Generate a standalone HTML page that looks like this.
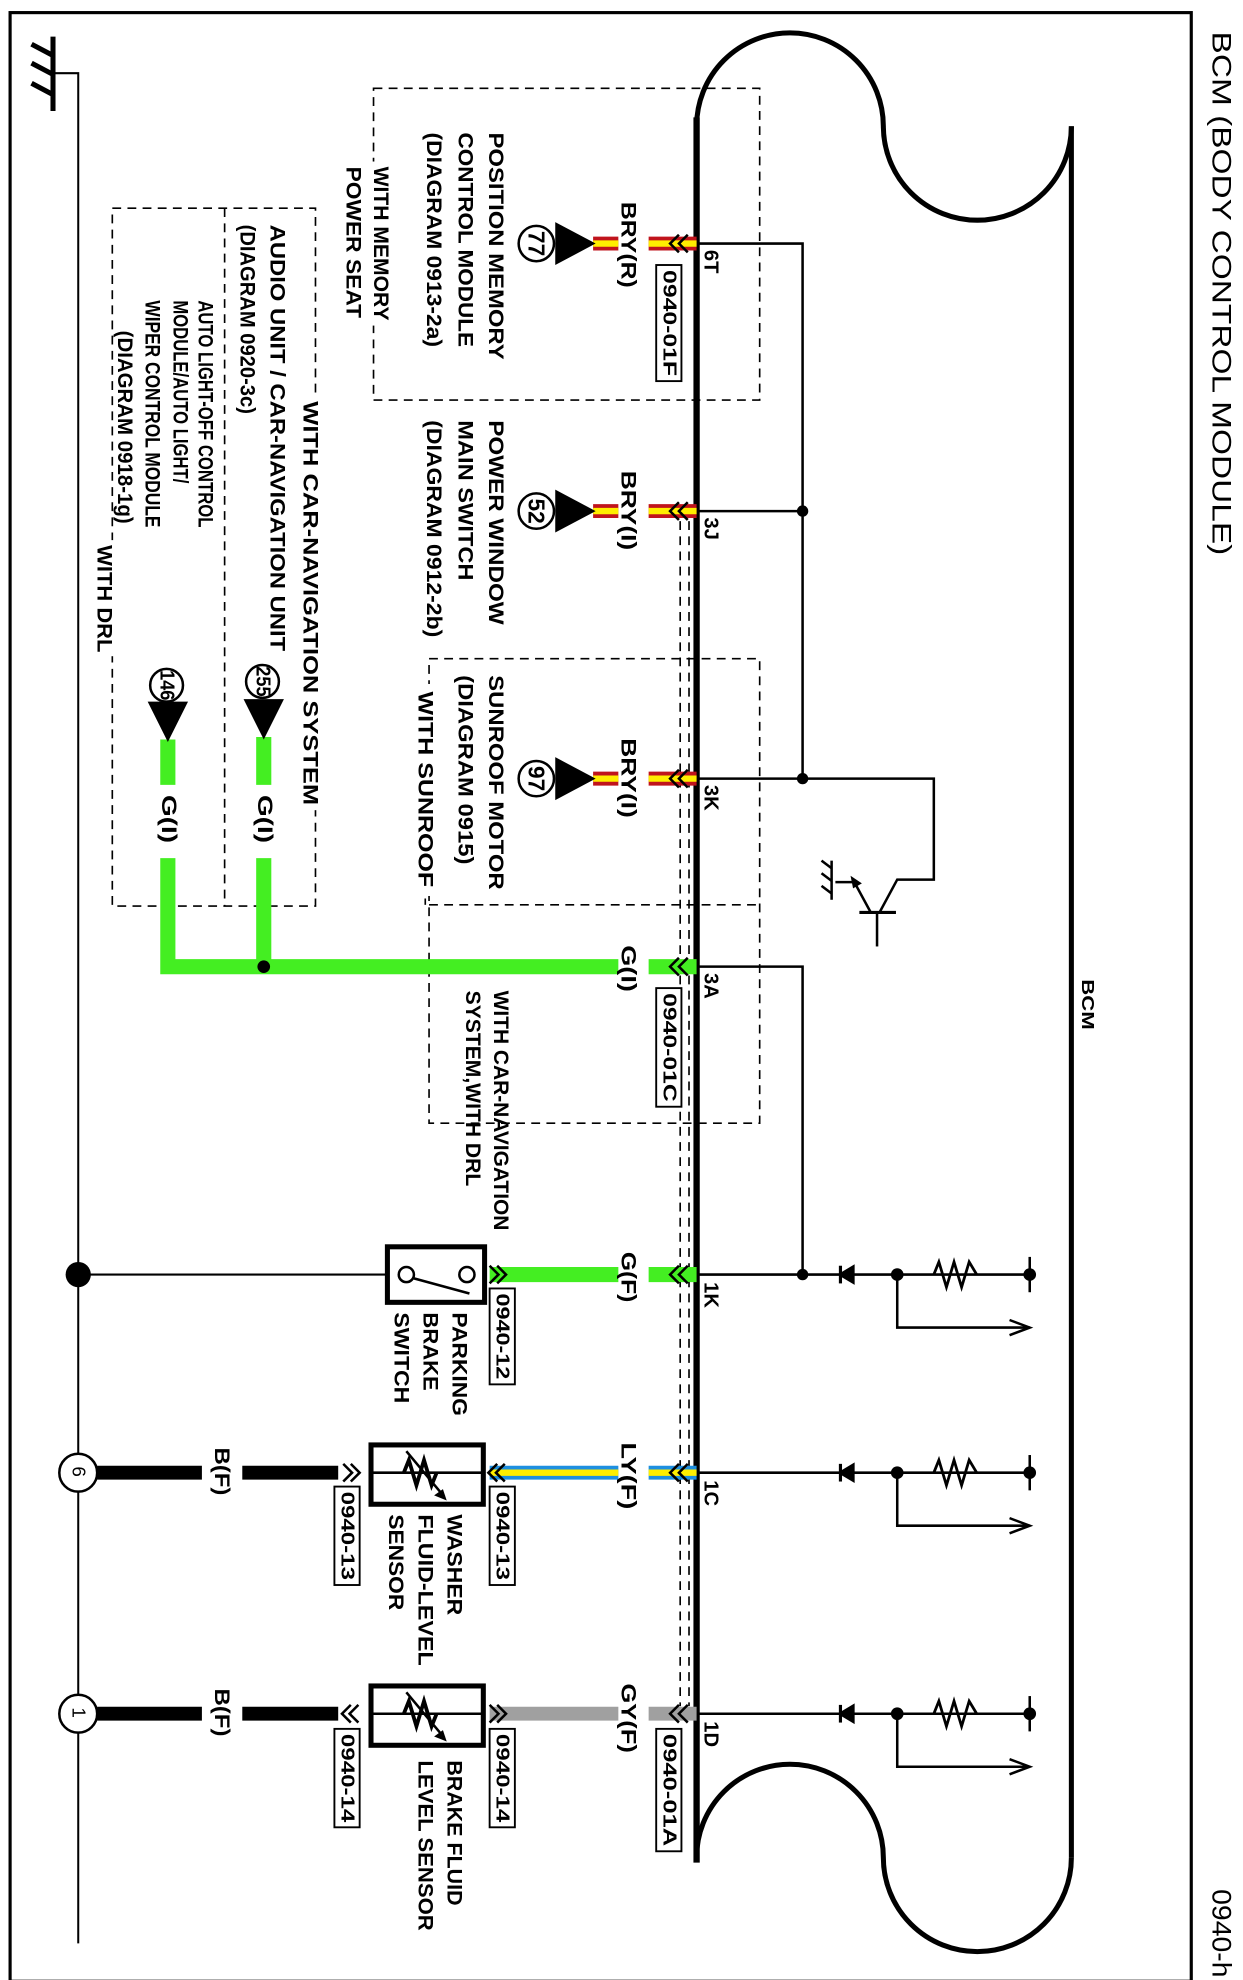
<!DOCTYPE html>
<html><head><meta charset="utf-8"><style>
html,body{margin:0;padding:0;background:#fff}
svg{display:block}
text{font-family:"Liberation Sans",sans-serif;font-weight:bold;fill:#000}
</style></head><body>
<svg width="1243" height="1980" viewBox="0 0 985 1569" preserveAspectRatio="none" xmlns="http://www.w3.org/2000/svg">
<rect x="8" y="10" width="936" height="1560" fill="none" stroke="#000" stroke-width="2.5"/>
<g font-size="21">
<text transform="translate(968,25) rotate(90)" dominant-baseline="central" textLength="415" lengthAdjust="spacingAndGlyphs" style="font-weight:normal">BCM (BODY CONTROL MODULE)</text>
<text transform="translate(968,1497) rotate(90)" dominant-baseline="central" textLength="70" lengthAdjust="spacingAndGlyphs" style="font-weight:normal">0940-h</text>
</g>
<g stroke="#000" fill="none">
<line x1="42" y1="29" x2="42" y2="88" stroke-width="4"/>
<line x1="42" y1="44" x2="25" y2="35" stroke-width="4"/>
<line x1="42" y1="59" x2="25" y2="50" stroke-width="4"/>
<line x1="42" y1="75" x2="25" y2="66" stroke-width="4"/>
<polyline points="42,58 62,58 62,1540" stroke-width="1.6"/>
</g>
<g stroke="#000" fill="none" stroke-width="4">
<path d="M552,100 A74,74 0 0 1 700,100 A74.5,74.5 0 0 0 849,100"/>
<path d="M552,1472 A74,74 0 0 1 700,1472 A74.5,74.5 0 0 0 849,1472"/>
<line x1="849" y1="100" x2="849" y2="1472"/>
<line x1="552" y1="93" x2="552" y2="1476" stroke-width="5"/>
</g>
<text transform="translate(862,776) rotate(90)" dominant-baseline="central" font-size="14" textLength="40" lengthAdjust="spacingAndGlyphs">BCM</text>
<g stroke="#000" fill="none" stroke-width="1.3" stroke-dasharray="7,5">
<rect x="296" y="70" width="306" height="247"/>
<rect x="340" y="522" width="262" height="368"/>
<line x1="340" y1="717" x2="602" y2="717"/>
<rect x="89" y="165" width="161" height="553"/>
<line x1="178" y1="165" x2="178" y2="718"/>
<line x1="539" y1="413" x2="539" y2="1352"/>
<line x1="546" y1="413" x2="546" y2="1352"/>
</g>
<!-- white gaps behind labels on box edges -->
<g fill="#fff">
<rect x="270" y="128" width="42" height="130"/>
<rect x="328" y="542" width="18" height="168"/>
<rect x="236" y="314" width="20" height="328"/>
<rect x="74" y="428" width="20" height="92"/>
</g>
<line x1="337" y1="712" x2="337" y2="717" stroke="#000" stroke-width="1.3"/>
<g stroke="#000" fill="none" stroke-width="2">
<polyline points="552,193 636,193 636,617"/>
<line x1="552" y1="405" x2="636" y2="405"/>
<polyline points="552,617 740,617 740,697 711,697 697,723"/>
<polyline points="552,766 636,766 636,1010"/>
<line x1="681" y1="723" x2="710" y2="723" stroke-width="2.5"/>
<line x1="695" y1="723" x2="695" y2="750"/>
<polyline points="690,723 677,699 662,699"/>
<line x1="659" y1="682" x2="659" y2="713"/>
<line x1="659" y1="688" x2="651" y2="682"/><line x1="659" y1="698" x2="651" y2="692"/><line x1="659" y1="708" x2="651" y2="702"/>
</g>
<polygon points="674,694 683,700 676,704" fill="#000"/>
<g fill="#000"><circle cx="636" cy="405" r="4.5"/><circle cx="636" cy="617" r="4.5"/><circle cx="636" cy="1010" r="4.5"/></g>
<g stroke="#000" fill="none" stroke-width="2">
<line x1="552" y1="1010" x2="816" y2="1010"/>
<polyline points="711,1010 711,1052 816,1052"/>
<polyline points="800,1046 816,1052 800,1058"/>
<line x1="816" y1="996" x2="816" y2="1024"/>
<line x1="552" y1="1167" x2="816" y2="1167"/>
<polyline points="711,1167 711,1209 816,1209"/>
<polyline points="800,1203 816,1209 800,1215"/>
<line x1="816" y1="1153" x2="816" y2="1181"/>
<line x1="552" y1="1358" x2="816" y2="1358"/>
<polyline points="711,1358 711,1400 816,1400"/>
<polyline points="800,1394 816,1400 800,1406"/>
<line x1="816" y1="1344" x2="816" y2="1372"/>
</g>
<g fill="#000" stroke="#000" stroke-width="2.5">
<polygon points="666,1010 676,1004 676,1016"/><line x1="666" y1="1003" x2="666" y2="1017"/>
<polygon points="666,1167 676,1161 676,1173"/><line x1="666" y1="1160" x2="666" y2="1174"/>
<polygon points="666,1358 676,1352 676,1364"/><line x1="666" y1="1351" x2="666" y2="1365"/>
</g>
<g fill="#000"><circle cx="711" cy="1010" r="5"/><circle cx="816" cy="1010" r="5"/><circle cx="711" cy="1167" r="5"/><circle cx="816" cy="1167" r="5"/><circle cx="711" cy="1358" r="5"/><circle cx="816" cy="1358" r="5"/></g>
<g fill="#fff" stroke="#000" stroke-width="2.2">
<polyline points="740,1010 744,1000 750,1020 756,1000 762,1020 768,1000 774,1010" fill="none"/>
<polyline points="740,1167 744,1157 750,1177 756,1157 762,1177 768,1157 774,1167" fill="none"/>
<polyline points="740,1358 744,1348 750,1368 756,1348 762,1368 768,1348 774,1358" fill="none"/>
</g>
<g>
<line x1="470" y1="193" x2="490" y2="193" stroke="#c0141c" stroke-width="11"/><line x1="470" y1="193" x2="490" y2="193" stroke="#ffee00" stroke-width="5"/>
<line x1="514" y1="193" x2="552" y2="193" stroke="#c0141c" stroke-width="11"/><line x1="514" y1="193" x2="552" y2="193" stroke="#ffee00" stroke-width="5"/>
<line x1="470" y1="405" x2="490" y2="405" stroke="#c0141c" stroke-width="11"/><line x1="470" y1="405" x2="490" y2="405" stroke="#ffee00" stroke-width="5"/>
<line x1="514" y1="405" x2="552" y2="405" stroke="#c0141c" stroke-width="11"/><line x1="514" y1="405" x2="552" y2="405" stroke="#ffee00" stroke-width="5"/>
<line x1="470" y1="617" x2="490" y2="617" stroke="#c0141c" stroke-width="11"/><line x1="470" y1="617" x2="490" y2="617" stroke="#ffee00" stroke-width="5"/>
<line x1="514" y1="617" x2="552" y2="617" stroke="#c0141c" stroke-width="11"/><line x1="514" y1="617" x2="552" y2="617" stroke="#ffee00" stroke-width="5"/>
<g stroke="#44ee22" stroke-width="12" fill="none">
<line x1="133" y1="586" x2="133" y2="622"/><polyline points="133,680 133,766 490,766"/>
<line x1="209" y1="584" x2="209" y2="622"/><line x1="209" y1="680" x2="209" y2="766"/>
<line x1="514" y1="766" x2="552" y2="766"/>
<line x1="388" y1="1010" x2="490" y2="1010"/><line x1="514" y1="1010" x2="552" y2="1010"/>
</g>
<line x1="388" y1="1167" x2="490" y2="1167" stroke="#1e8fe0" stroke-width="11"/><line x1="388" y1="1167" x2="490" y2="1167" stroke="#ffee00" stroke-width="5"/>
<line x1="514" y1="1167" x2="552" y2="1167" stroke="#1e8fe0" stroke-width="11"/><line x1="514" y1="1167" x2="552" y2="1167" stroke="#ffee00" stroke-width="5"/>
<line x1="388" y1="1358" x2="490" y2="1358" stroke="#a0a0a0" stroke-width="11"/>
<line x1="514" y1="1358" x2="552" y2="1358" stroke="#a0a0a0" stroke-width="11"/>
<g stroke="#000" stroke-width="11">
<line x1="77" y1="1167" x2="160" y2="1167"/><line x1="192" y1="1167" x2="268" y2="1167"/>
<line x1="77" y1="1358" x2="160" y2="1358"/><line x1="192" y1="1358" x2="268" y2="1358"/>
</g>
</g>
<circle cx="209" cy="766" r="5" fill="#000"/>
<g stroke="#000" stroke-width="2" fill="none">
<polyline points="538,186 531,193 538,200"/><polyline points="545,186 538,193 545,200"/>
<polyline points="538,398 531,405 538,412"/><polyline points="545,398 538,405 545,412"/>
<polyline points="538,610 531,617 538,624"/><polyline points="545,610 538,617 545,624"/>
<polyline points="538,759 531,766 538,773"/><polyline points="545,759 538,766 545,773"/>
<polyline points="538,1003 531,1010 538,1017"/><polyline points="545,1003 538,1010 545,1017"/>
<polyline points="538,1160 531,1167 538,1174"/><polyline points="545,1160 538,1167 545,1174"/>
<polyline points="538,1351 531,1358 538,1365"/><polyline points="545,1351 538,1358 545,1365"/>
<polyline points="388,1003 395,1010 388,1017"/><polyline points="394,1003 401,1010 394,1017"/>
<polyline points="394,1160 387,1167 394,1174"/><polyline points="400,1160 393,1167 400,1174"/>
<polyline points="388,1351 395,1358 388,1365"/><polyline points="394,1351 401,1358 394,1365"/>
<polyline points="272,1160 279,1167 272,1174"/><polyline points="278,1160 285,1167 278,1174"/>
<polyline points="278,1351 271,1358 278,1365"/><polyline points="284,1351 277,1358 284,1365"/>
</g>
<g fill="#000">
<polygon points="440,176 440,210 472,193"/><polygon points="440,388 440,422 472,405"/><polygon points="440,600 440,634 472,617"/>
<polygon points="117,556 149,556 133,588"/><polygon points="193,554 225,554 209,586"/>
</g>
<g fill="#fff" stroke="#000" stroke-width="2">
<circle cx="425" cy="193" r="14"/><circle cx="425" cy="405" r="14"/><circle cx="425" cy="617" r="14"/>
<circle cx="132" cy="543" r="13"/><circle cx="208" cy="540" r="13"/>
<circle cx="62" cy="1167" r="15"/><circle cx="62" cy="1358" r="15"/>
</g>
<circle cx="62" cy="1010" r="10" fill="#000"/>
<line x1="62" y1="1010" x2="307" y2="1010" stroke="#000" stroke-width="1.6"/>
<g stroke="#000" fill="#fff">
<rect x="307" y="988" width="77" height="44" stroke-width="4"/>
<circle cx="322" cy="1010" r="6" stroke-width="2"/><circle cx="370" cy="1010" r="6" stroke-width="2"/>
<line x1="328" y1="1013" x2="372" y2="1025" stroke-width="2"/>
<rect x="294" y="1145" width="89" height="47" stroke-width="4"/>
<rect x="294" y="1336" width="89" height="47" stroke-width="4"/>
</g>
<g stroke="#000" fill="none" stroke-width="2">
<line x1="294" y1="1167" x2="383" y2="1167"/>
<polyline points="320,1167 324,1157 330,1177 336,1157 342,1177 346,1167" stroke-width="3"/>
<line x1="322" y1="1150" x2="352" y2="1186"/>
<line x1="294" y1="1358" x2="383" y2="1358"/>
<polyline points="320,1358 324,1348 330,1368 336,1348 342,1368 346,1358" stroke-width="3"/>
<line x1="322" y1="1341" x2="352" y2="1377"/>
</g>
<polygon points="354,1189 344,1185 351,1180" fill="#000"/>
<polygon points="354,1380 344,1376 351,1371" fill="#000"/>
<g fill="#fff" stroke="#000" stroke-width="1.5">
<rect x="520" y="210" width="20" height="92"/><rect x="520" y="783" width="20" height="94"/><rect x="520" y="1370" width="20" height="97"/>
<rect x="388" y="1021" width="20" height="76"/><rect x="388" y="1178" width="20" height="78"/><rect x="265" y="1178" width="20" height="78"/>
<rect x="388" y="1370" width="20" height="78"/><rect x="265" y="1370" width="20" height="78"/>
</g>
<g font-size="15" dominant-baseline="central">
<text transform="translate(530,214) rotate(90)" textLength="84" lengthAdjust="spacingAndGlyphs">0940-01F</text>
<text transform="translate(530,787) rotate(90)" textLength="86" lengthAdjust="spacingAndGlyphs">0940-01C</text>
<text transform="translate(530,1374) rotate(90)" textLength="89" lengthAdjust="spacingAndGlyphs">0940-01A</text>
<text transform="translate(398,1025) rotate(90)" textLength="68" lengthAdjust="spacingAndGlyphs">0940-12</text>
<text transform="translate(398,1182) rotate(90)" textLength="70" lengthAdjust="spacingAndGlyphs">0940-13</text>
<text transform="translate(275,1182) rotate(90)" textLength="70" lengthAdjust="spacingAndGlyphs">0940-13</text>
<text transform="translate(398,1374) rotate(90)" textLength="70" lengthAdjust="spacingAndGlyphs">0940-14</text>
<text transform="translate(275,1374) rotate(90)" textLength="70" lengthAdjust="spacingAndGlyphs">0940-14</text>
<text transform="translate(425,183) rotate(90)" font-size="18">77</text>
<text transform="translate(425,395) rotate(90)" font-size="18">52</text>
<text transform="translate(425,607) rotate(90)" font-size="18">97</text>
<text transform="translate(132,531) rotate(90)" font-size="16" textLength="24" lengthAdjust="spacingAndGlyphs">146</text>
<text transform="translate(208,528) rotate(90)" font-size="16" textLength="24" lengthAdjust="spacingAndGlyphs">255</text>
<text transform="translate(62,1162) rotate(90)" font-size="15" style="font-weight:normal">6</text>
<text transform="translate(62,1353) rotate(90)" font-size="15" style="font-weight:normal">1</text>
</g>
<g font-size="16" dominant-baseline="central" style="font-weight:normal">
<text transform="translate(563,198) rotate(90)">6T</text>
<text transform="translate(563,410) rotate(90)">3J</text>
<text transform="translate(563,622) rotate(90)">3K</text>
<text transform="translate(563,771) rotate(90)">3A</text>
<text transform="translate(563,1016) rotate(90)">1K</text>
<text transform="translate(563,1173) rotate(90)">1C</text>
<text transform="translate(563,1364) rotate(90)">1D</text>
</g>
<g font-size="17" dominant-baseline="central">
<text transform="translate(498,160) rotate(90)" textLength="68" lengthAdjust="spacingAndGlyphs">BRY(R)</text>
<text transform="translate(498,373) rotate(90)" textLength="63" lengthAdjust="spacingAndGlyphs">BRY(I)</text>
<text transform="translate(498,585) rotate(90)" textLength="63" lengthAdjust="spacingAndGlyphs">BRY(I)</text>
<text transform="translate(498,749) rotate(90)" textLength="37" lengthAdjust="spacingAndGlyphs">G(I)</text>
<text transform="translate(498,992) rotate(90)" textLength="40" lengthAdjust="spacingAndGlyphs">G(F)</text>
<text transform="translate(498,1143) rotate(90)" textLength="53" lengthAdjust="spacingAndGlyphs">LY(F)</text>
<text transform="translate(498,1334) rotate(90)" textLength="55" lengthAdjust="spacingAndGlyphs">GY(F)</text>
<text transform="translate(134,630) rotate(90)" textLength="38" lengthAdjust="spacingAndGlyphs">G(I)</text>
<text transform="translate(210,630) rotate(90)" textLength="38" lengthAdjust="spacingAndGlyphs">G(I)</text>
<text transform="translate(176,1147) rotate(90)" textLength="38" lengthAdjust="spacingAndGlyphs">B(F)</text>
<text transform="translate(176,1338) rotate(90)" textLength="38" lengthAdjust="spacingAndGlyphs">B(F)</text>
</g>
<g font-size="17" dominant-baseline="central">
<text transform="translate(393,105) rotate(90)" textLength="180" lengthAdjust="spacingAndGlyphs">POSITION MEMORY</text>
<text transform="translate(369,105) rotate(90)" textLength="170" lengthAdjust="spacingAndGlyphs">CONTROL MODULE</text>
<text transform="translate(344,105) rotate(90)" textLength="170" lengthAdjust="spacingAndGlyphs">(DIAGRAM 0913-2a)</text>
<text transform="translate(302,132) rotate(90)" textLength="122" lengthAdjust="spacingAndGlyphs">WITH MEMORY</text>
<text transform="translate(280,132) rotate(90)" textLength="120" lengthAdjust="spacingAndGlyphs">POWER SEAT</text>
<text transform="translate(393,333) rotate(90)" textLength="162" lengthAdjust="spacingAndGlyphs">POWER WINDOW</text>
<text transform="translate(369,333) rotate(90)" textLength="127" lengthAdjust="spacingAndGlyphs">MAIN SWITCH</text>
<text transform="translate(344,333) rotate(90)" textLength="172" lengthAdjust="spacingAndGlyphs">(DIAGRAM 0912-2b)</text>
<text transform="translate(393,535) rotate(90)" textLength="170" lengthAdjust="spacingAndGlyphs">SUNROOF MOTOR</text>
<text transform="translate(369,535) rotate(90)" textLength="150" lengthAdjust="spacingAndGlyphs">(DIAGRAM 0915)</text>
<text transform="translate(337,548) rotate(90)" textLength="155" lengthAdjust="spacingAndGlyphs">WITH SUNROOF</text>
<text transform="translate(397,785) rotate(90)" textLength="190" lengthAdjust="spacingAndGlyphs">WITH CAR-NAVIGATION</text>
<text transform="translate(375,785) rotate(90)" textLength="155" lengthAdjust="spacingAndGlyphs">SYSTEM,WITH DRL</text>
<text transform="translate(246,318) rotate(90)" textLength="320" lengthAdjust="spacingAndGlyphs">WITH CAR-NAVIGATION SYSTEM</text>
<text transform="translate(220,178) rotate(90)" textLength="338" lengthAdjust="spacingAndGlyphs">AUDIO UNIT / CAR-NAVIGATION UNIT</text>
<text transform="translate(196,178) rotate(90)" textLength="150" lengthAdjust="spacingAndGlyphs">(DIAGRAM 0920-3c)</text>
<text transform="translate(163,238) rotate(90)" textLength="180" lengthAdjust="spacingAndGlyphs">AUTO LIGHT-OFF CONTROL</text>
<text transform="translate(143,238) rotate(90)" textLength="145" lengthAdjust="spacingAndGlyphs">MODULE/AUTO LIGHT/</text>
<text transform="translate(121,238) rotate(90)" textLength="180" lengthAdjust="spacingAndGlyphs">WIPER CONTROL MODULE</text>
<text transform="translate(99,262) rotate(90)" textLength="153" lengthAdjust="spacingAndGlyphs">(DIAGRAM 0918-1g)</text>
<text transform="translate(83,432) rotate(90)" textLength="85" lengthAdjust="spacingAndGlyphs">WITH DRL</text>
<text transform="translate(364,1040) rotate(90)" textLength="82" lengthAdjust="spacingAndGlyphs">PARKING</text>
<text transform="translate(341,1040) rotate(90)" textLength="62" lengthAdjust="spacingAndGlyphs">BRAKE</text>
<text transform="translate(318,1040) rotate(90)" textLength="72" lengthAdjust="spacingAndGlyphs">SWITCH</text>
<text transform="translate(360,1200) rotate(90)" textLength="80" lengthAdjust="spacingAndGlyphs">WASHER</text>
<text transform="translate(337,1200) rotate(90)" textLength="120" lengthAdjust="spacingAndGlyphs">FLUID-LEVEL</text>
<text transform="translate(314,1200) rotate(90)" textLength="76" lengthAdjust="spacingAndGlyphs">SENSOR</text>
<text transform="translate(360,1395) rotate(90)" textLength="115" lengthAdjust="spacingAndGlyphs">BRAKE FLUID</text>
<text transform="translate(337,1395) rotate(90)" textLength="135" lengthAdjust="spacingAndGlyphs">LEVEL SENSOR</text>
</g>
</svg>
</body></html>
